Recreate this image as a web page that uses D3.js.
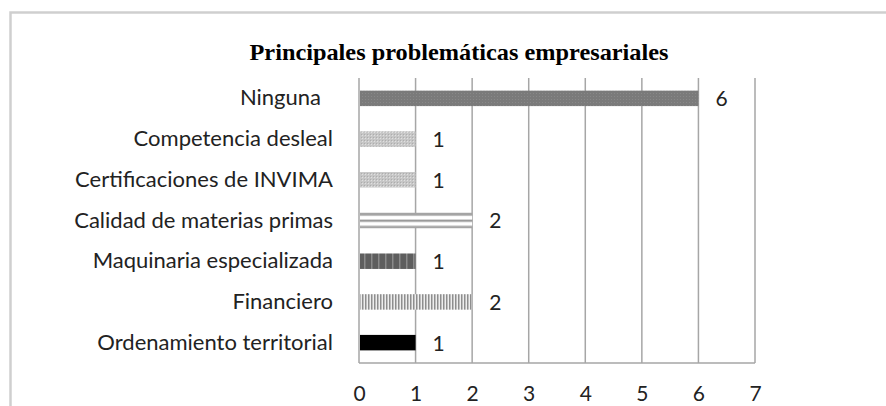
<!DOCTYPE html>
<meta charset="utf-8">
<script src="https://d3js.org/d3.v7.min.js"></script>
<style>
  body { margin: 0; background: #fff; }
</style>
<div id="my_dataviz"></div>
<script>

// categories, top to bottom
var categories = ["Ninguna", "Competencia desleal", "Certificaciones de INVIMA",
  "Calidad de materias primas", "Maquinaria especializada", "Financiero",
  "Ordenamiento territorial"];
var values = [6, 1, 1, 2, 1, 2, 1];
var xTicks = [0, 1, 2, 3, 4, 5, 6, 7];
var title = "Principales problemáticas empresariales";

// fill pattern per bar (same order as categories)
var fills = ["url(#pDarkDots)", "url(#pLightDots)", "url(#pLightDots)",
  "url(#pHLines)", "url(#pDarkVert)", "url(#pVert)", "#000"];

var W = 886, H = 406;
var margin = {top: 78, left: 359, right: 131, bottom: 43};
var width = W - margin.left - margin.right,
    height = H - margin.top - margin.bottom;
var labelFont = "Lato, 'Open Sans', sans-serif";

var svg = d3.select("#my_dataviz")
  .append("svg")
    .attr("width", W)
    .attr("height", H);

// patterns
var defs = svg.append("defs");
var p = defs.append("pattern").attr("id", "pDarkDots")
  .attr("patternUnits", "userSpaceOnUse").attr("width", 3).attr("height", 3);
p.append("rect").attr("width", 3).attr("height", 3).attr("fill", "#7a7a7a");
p.append("rect").attr("width", 1).attr("height", 1).attr("fill", "#888");

p = defs.append("pattern").attr("id", "pLightDots")
  .attr("patternUnits", "userSpaceOnUse").attr("width", 3).attr("height", 3);
p.append("rect").attr("width", 3).attr("height", 3).attr("fill", "#c6c6c6");
p.append("rect").attr("width", 1).attr("height", 1).attr("fill", "#e0e0e0");
p.append("rect").attr("x", 2).attr("y", 2).attr("width", 1).attr("height", 1).attr("fill", "#adadad");

p = defs.append("pattern").attr("id", "pHLines")
  .attr("patternUnits", "objectBoundingBox").attr("width", 1).attr("height", 1);
p.append("rect").attr("width", 200).attr("height", 16).attr("fill", "#fff");
p.append("rect").attr("y", 0).attr("width", 200).attr("height", 3).attr("fill", "#a4a4a4");
p.append("rect").attr("y", 7).attr("width", 200).attr("height", 2).attr("fill", "#8c8c8c");
p.append("rect").attr("y", 13).attr("width", 200).attr("height", 3).attr("fill", "#a4a4a4");

p = defs.append("pattern").attr("id", "pDarkVert")
  .attr("patternUnits", "userSpaceOnUse").attr("width", 7).attr("height", 4);
p.append("rect").attr("width", 7).attr("height", 4).attr("fill", "#5e5e5e");
p.append("rect").attr("x", 5).attr("width", 1.5).attr("height", 4).attr("fill", "#8a8a8a");

p = defs.append("pattern").attr("id", "pVert")
  .attr("patternUnits", "userSpaceOnUse").attr("width", 3).attr("height", 4);
p.append("rect").attr("width", 3).attr("height", 4).attr("fill", "#eeeeee");
p.append("rect").attr("x", 0).attr("width", 1.5).attr("height", 4).attr("fill", "#8e8e8e");

// chart frame (runs off the right and bottom)
svg.append("path")
  .attr("d", "M10.5," + (H + 5) + "V12.5H" + (W + 5))
  .attr("fill", "none")
  .attr("stroke", "#cfcfcf")
  .attr("stroke-width", 2.5);

// title
svg.append("text")
  .attr("x", 459)
  .attr("y", 60)
  .attr("text-anchor", "middle")
  .attr("textLength", 419)
  .attr("lengthAdjust", "spacingAndGlyphs")
  .style("font-family", "'Liberation Serif', 'Times New Roman', serif")
  .style("font-weight", "bold")
  .style("font-size", "23px")
  .text(title);

var g = svg.append("g")
  .attr("transform", "translate(" + margin.left + "," + margin.top + ")");

var x = d3.scaleLinear().domain([0, 7]).range([0, width]);
var y = d3.scaleBand().domain(categories).range([0, height]).paddingInner(0.62).paddingOuter(0.31);

// vertical gridlines
g.append("g")
  .selectAll("line")
  .data(xTicks)
  .enter()
  .append("line")
    .attr("x1", function(d) { return x(d); })
    .attr("x2", function(d) { return x(d); })
    .attr("y1", 0)
    .attr("y2", height)
    .attr("stroke", "#a6a6a6")
    .attr("stroke-width", 1.5);

// bottom axis line
g.append("line")
  .attr("x1", 0).attr("x2", width)
  .attr("y1", height).attr("y2", height)
  .attr("stroke", "#a6a6a6")
  .attr("stroke-width", 1.5);

// x tick labels
var xAxis = g.append("g")
  .attr("transform", "translate(0," + height + ")")
  .call(d3.axisBottom(x).tickValues(xTicks).tickFormat(d3.format("d")).tickSize(0).tickPadding(23));
xAxis.select(".domain").remove();
xAxis.selectAll("text")
  .style("font-family", labelFont)
  .style("font-size", "21px")
  .attr("fill", "#222");

// category labels
var yAxis = g.append("g")
  .call(d3.axisLeft(y).tickSize(0).tickPadding(26));
yAxis.select(".domain").remove();
yAxis.selectAll("text")
  .style("font-family", labelFont)
  .style("font-size", "22px")
  .attr("fill", "#222")
  .attr("dx", function(d) { return d === "Ninguna" ? -12 : 0; });

// bars
g.append("g")
  .selectAll("rect")
  .data(values)
  .enter()
  .append("rect")
    .attr("x", 1)
    .attr("y", function(d, i) { return y(categories[i]); })
    .attr("width", function(d) { return x(d) - 1; })
    .attr("height", y.bandwidth())
    .attr("fill", function(d, i) { return fills[i]; });

// value labels
g.append("g")
  .selectAll("text")
  .data(values)
  .enter()
  .append("text")
    .attr("x", function(d) { return x(d) + 17; })
    .attr("y", function(d, i) { return y(categories[i]) + y.bandwidth() / 2; })
    .attr("dy", "0.38em")
    .style("font-family", labelFont)
    .style("font-size", "21px")
    .attr("fill", "#222")
    .text(function(d) { return d; });

</script>
